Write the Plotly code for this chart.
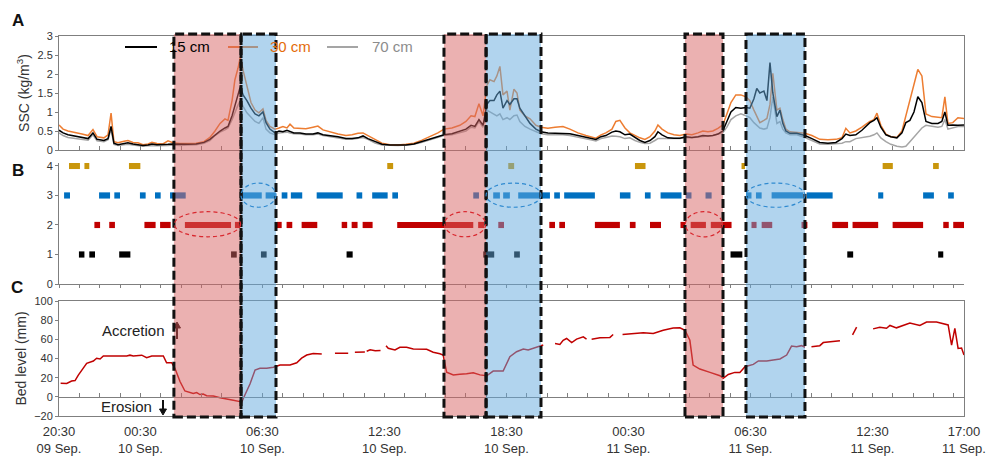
import plotly.graph_objects as go

# ---------------- data ----------------
# time axis: hours elapsed since 20:30, 09 Sep.
tick_hours = [0, 4, 10, 16, 22, 28, 34, 40, 44.5]
tick_labels = ["20:30<br>09 Sep.", "00:30<br>10 Sep.", "06:30<br>10 Sep.", "12:30<br>10 Sep.",
               "18:30<br>10 Sep.", "00:30<br>11 Sep.", "06:30<br>11 Sep.", "12:30<br>11 Sep.",
               "17:00<br>11 Sep."]

# erosion (red) and recovery (blue) windows, hours
erosion_windows = [(5.65, 8.95), (18.93, 21.0), (30.78, 32.65)]
recovery_windows = [(8.95, 10.67), (21.0, 23.7), (33.78, 36.68)]

# A: suspended sediment concentration (kg/m3)
t_ssc = [0.00, 0.20, 0.44, 0.79, 1.13, 1.43, 1.67, 1.87, 2.21, 2.41, 2.56, 2.70, 2.90, 3.20, 3.39, 3.64,
         3.88, 4.13, 4.38, 4.57, 4.82, 5.11, 5.36, 5.60, 5.95, 6.34, 6.74, 7.13, 7.42, 7.67, 7.92, 8.16,
         8.31, 8.51, 8.65, 8.80, 8.92, 9.05, 9.24, 9.44, 9.64, 9.83, 10.03, 10.18, 10.37, 10.62, 10.82,
         11.01, 11.21, 11.36, 11.55, 11.85, 12.14, 12.49, 12.73, 12.98, 13.32, 13.72, 14.11, 14.41, 14.70,
         14.95, 15.19, 15.54, 15.88, 16.27, 16.67, 17.06, 17.45, 17.85, 18.24, 18.63, 18.93, 19.32, 19.71,
         20.01, 20.26, 20.45, 20.65, 20.85, 21.04, 21.19, 21.39, 21.53, 21.68, 21.83, 22.03, 22.17, 22.37,
         22.52, 22.66, 22.91, 23.16, 23.45, 23.70, 24.04, 24.39, 24.78, 25.12, 25.52, 25.91, 26.20, 26.40,
         26.65, 26.89, 27.19, 27.38, 27.58, 27.83, 28.07, 28.32, 28.56, 28.81, 29.06, 29.30, 29.45, 29.65,
         29.94, 30.24, 30.53, 30.83, 31.12, 31.42, 31.66, 31.91, 32.15, 32.40, 32.64, 32.84, 33.04, 33.28,
         33.53, 33.78, 33.97, 34.17, 34.31, 34.46, 34.66, 34.81, 34.96, 35.10, 35.30, 35.45, 35.59, 35.74,
         35.94, 36.28, 36.68, 37.02, 37.41, 37.81, 38.20, 38.50, 38.69, 38.89, 39.18, 39.48, 39.68, 39.87,
         40.07, 40.22, 40.41, 40.66, 40.90, 41.20, 41.45, 41.64, 41.84, 42.04, 42.23, 42.43, 42.63, 42.92,
         43.22, 43.41, 43.56, 43.71, 43.95, 44.20, 44.50]

ssc_15cm = [0.52, 0.45, 0.40, 0.36, 0.33, 0.30, 0.45, 0.28, 0.25, 0.30, 0.62, 0.18, 0.14, 0.17, 0.19, 0.16,
            0.15, 0.12, 0.13, 0.16, 0.14, 0.14, 0.15, 0.16, 0.15, 0.15, 0.16, 0.20, 0.28, 0.40, 0.50, 0.58,
            0.62, 0.90, 1.20, 1.45, 1.68, 1.45, 1.30, 1.10, 0.95, 0.90, 1.00, 0.72, 0.55, 0.45, 0.50,
            0.48, 0.52, 0.48, 0.45, 0.45, 0.42, 0.42, 0.45, 0.40, 0.38, 0.35, 0.30, 0.30, 0.32,
            0.37, 0.30, 0.22, 0.15, 0.13, 0.12, 0.13, 0.16, 0.22, 0.28, 0.35, 0.40, 0.43, 0.50,
            0.55, 0.65, 0.62, 0.80, 0.65, 1.20, 1.30, 1.30, 1.45, 1.55, 1.10, 1.30, 1.20, 1.35,
            1.35, 1.10, 0.90, 0.70, 0.55, 0.48, 0.45, 0.44, 0.44, 0.43, 0.38, 0.33, 0.30, 0.28,
            0.35, 0.38, 0.47, 0.50, 0.48, 0.40, 0.42, 0.33, 0.25, 0.20, 0.25, 0.35, 0.48, 0.40,
            0.32, 0.31, 0.31, 0.35, 0.33, 0.35, 0.38, 0.37, 0.38, 0.42, 0.50, 0.75, 1.00, 1.12,
            1.10, 1.12, 1.10, 1.35, 1.62, 1.50, 1.55, 1.30, 2.30, 1.50, 0.88, 1.05, 0.70, 0.50,
            0.44, 0.44, 0.38, 0.30, 0.20, 0.18, 0.20, 0.30, 0.42, 0.38, 0.40, 0.52, 0.62, 0.72,
            0.78, 0.85, 0.60, 0.40, 0.35, 0.32, 0.45, 0.72, 0.78, 1.00, 1.40, 1.25, 0.75, 0.70,
            0.70, 0.75, 1.00, 0.65, 0.66, 0.65, 0.66]

ssc_30cm = [0.66, 0.55, 0.50, 0.45, 0.42, 0.38, 0.54, 0.35, 0.32, 0.40, 0.97, 0.22, 0.19, 0.23, 0.25, 0.20,
            0.19, 0.14, 0.16, 0.20, 0.17, 0.16, 0.24, 0.19, 0.17, 0.17, 0.18, 0.22, 0.33, 0.50, 0.70, 0.82,
            0.78, 1.30, 1.85, 2.15, 2.45, 2.10, 1.70, 1.25, 1.05, 0.98, 1.08, 0.78, 0.62, 0.55, 0.58,
            0.62, 0.58, 0.68, 0.58, 0.57, 0.56, 0.60, 0.63, 0.53, 0.47, 0.42, 0.38, 0.40, 0.44,
            0.45, 0.38, 0.28, 0.18, 0.14, 0.13, 0.15, 0.18, 0.26, 0.35, 0.45, 0.55, 0.58, 0.65,
            0.75, 0.90, 0.88, 1.22, 0.90, 1.70, 1.85, 1.80, 1.95, 2.20, 1.45, 1.55, 1.05, 1.60,
            1.50, 1.05, 0.90, 0.82, 0.65, 0.60, 0.57, 0.60, 0.62, 0.55, 0.45, 0.38, 0.35, 0.31,
            0.40, 0.45, 0.55, 0.75, 0.78, 0.58, 0.45, 0.38, 0.32, 0.28, 0.35, 0.50, 0.66, 0.55,
            0.45, 0.40, 0.38, 0.42, 0.40, 0.45, 0.50, 0.48, 0.50, 0.57, 0.66, 0.95, 1.25, 1.45,
            1.45, 1.40, 1.30, 1.05, 0.90, 0.72, 0.78, 0.83, 1.20, 2.02, 1.05, 1.10, 0.80, 0.55,
            0.48, 0.47, 0.44, 0.38, 0.28, 0.27, 0.28, 0.32, 0.57, 0.45, 0.50, 0.60, 0.68, 0.75,
            0.80, 0.97, 0.65, 0.42, 0.35, 0.33, 0.50, 0.88, 1.30, 1.75, 2.12, 1.95, 0.95, 0.88,
            0.86, 0.85, 1.40, 0.70, 0.72, 0.85, 0.83]

ssc_70cm = [0.45, 0.38, 0.33, 0.30, 0.28, 0.26, 0.40, 0.24, 0.22, 0.27, 0.55, 0.15, 0.12, 0.14, 0.15, 0.13,
            0.12, 0.10, 0.11, 0.12, 0.11, 0.11, 0.12, 0.13, 0.12, 0.13, 0.14, 0.18, 0.25, 0.38, 0.47, 0.53,
            0.58, 0.80, 1.00, 1.18, 1.30, 1.15, 0.98, 0.85, 0.75, 0.70, 0.85, 0.55, 0.45, 0.40, 0.45,
            0.46, 0.47, 0.45, 0.43, 0.42, 0.40, 0.40, 0.42, 0.38, 0.35, 0.33, 0.28, 0.28, 0.30,
            0.33, 0.28, 0.18, 0.13, 0.12, 0.12, 0.13, 0.15, 0.20, 0.27, 0.33, 0.38, 0.40, 0.45,
            0.50, 0.60, 0.58, 0.75, 0.60, 1.05, 1.00, 0.95, 0.90, 0.95, 0.80, 0.85, 0.80, 0.90,
            0.92, 0.75, 0.62, 0.55, 0.48, 0.43, 0.40, 0.40, 0.40, 0.38, 0.33, 0.28, 0.26, 0.24,
            0.30, 0.33, 0.37, 0.36, 0.35, 0.30, 0.32, 0.25, 0.20, 0.17, 0.18, 0.25, 0.30, 0.30,
            0.30, 0.30, 0.30, 0.33, 0.32, 0.34, 0.36, 0.37, 0.38, 0.42, 0.45, 0.60, 0.80, 0.90,
            0.95, 0.90, 0.85, 0.72, 0.65, 0.58, 0.55, 0.57, 0.85, 1.40, 0.70, 0.75, 0.55, 0.45,
            0.40, 0.40, 0.33, 0.25, 0.16, 0.15, 0.17, 0.18, 0.22, 0.22, 0.30, 0.32, 0.33, 0.36,
            0.40, 0.45, 0.32, 0.22, 0.15, 0.10, 0.08, 0.10, 0.22, 0.35, 0.45, 0.58, 0.65, 0.62,
            0.60, 0.62, 0.80, 0.55, 0.58, 0.62, 0.62]

# B: classified states 1-4, each as (start, end) runs in hours
state4_runs = [(0.49, 1.03), (1.25, 1.49), (3.44, 4.00), (16.14, 16.43), (22.09, 22.38), (28.32, 28.84),
               (33.56, 33.73), (40.50, 41.00), (42.98, 43.26)]
state3_runs = [(0.25, 0.54), (1.97, 2.51), (2.72, 3.00), (3.98, 4.26), (4.72, 5.00), (5.46, 6.23),
               (8.95, 9.97), (10.16, 10.65), (10.95, 11.23), (11.40, 11.96), (12.67, 13.95), (14.63, 14.91),
               (15.40, 16.16), (16.39, 16.67), (20.37, 20.65), (21.35, 21.68), (21.84, 22.17), (22.58, 24.14),
               (24.35, 24.63), (24.84, 26.35), (27.58, 28.10), (28.81, 29.09), (29.58, 30.61), (30.83, 31.10),
               (31.79, 32.09), (33.78, 34.05), (34.27, 34.55), (35.04, 36.60), (36.76, 38.04), (40.28, 40.53),
               (42.49, 43.02), (43.72, 44.00)]
state2_runs = [(1.74, 2.02), (2.47, 2.75), (4.20, 4.75), (4.97, 5.49), (6.19, 8.46), (8.65, 8.90),
               (10.70, 10.95), (11.19, 11.47), (11.93, 12.70), (13.90, 14.17), (14.39, 14.68), (14.93, 15.42),
               (16.63, 20.37), (20.61, 20.90), (21.60, 21.88), (24.11, 24.39), (24.60, 24.88), (26.35, 27.58),
               (28.07, 28.35), (29.06, 29.60), (30.56, 30.78), (31.06, 31.81), (32.05, 33.07), (34.05, 34.30),
               (34.55, 35.07), (36.51, 36.80), (38.02, 38.80), (39.02, 40.28), (40.99, 42.49), (43.48, 43.75),
               (43.97, 44.50)]
state1_runs = [(0.98, 1.25), (1.49, 1.77), (2.96, 3.51), (8.46, 8.74), (9.93, 10.21), (14.14, 14.44),
               (20.86, 21.40), (22.38, 22.66), (33.02, 33.60), (38.76, 39.05), (43.23, 43.48)]

# C: bed level (mm); None marks missing records
t_bed = [0.08, 0.38, 0.62, 0.79, 0.95, 1.19, 1.36, 1.69, 1.85, 2.02, 2.18, 3.33, 3.49, 3.65, 4.07, 4.31,
         4.56, 5.13, 5.29, 5.54, 5.70, 5.95, 6.19, 6.60, 6.77, 6.93, 7.09, 7.26, 7.59, 7.92, 8.24, 8.57,
         8.90, 8.98, 9.14, 9.39, 9.64, 9.88, 10.21, 10.54, 10.87, 11.36, 11.69, 11.93, 12.18, 12.50, 12.92,
         12.95, 13.57, 14.22, 14.30, 14.55, 15.04, 15.10, 15.13, 15.30, 15.55, 15.81, 15.90, 16.08, 16.19,
         16.52, 16.76, 17.09, 17.42, 18.08, 18.40, 18.73, 18.89, 19.06, 19.22, 19.39, 19.71, 20.04, 20.37,
         20.70, 21.03, 21.35, 21.84, 22.17, 22.50, 22.83, 23.07, 23.32, 23.65, 23.81, 23.95, 24.39, 24.63,
         24.79, 24.96, 25.21, 25.45, 25.78, 25.94, 26.05, 26.19, 26.60, 27.09, 27.25, 27.45, 27.71, 28.24,
         28.73, 29.22, 29.71, 30.20, 30.53, 30.78, 31.02, 31.18, 31.51, 32.01, 32.50, 32.66, 32.91, 33.23,
         33.48, 33.73, 34.14, 34.39, 34.80, 35.12, 35.45, 35.78, 36.02, 36.27, 36.51, 36.68, 36.85, 37.00,
         37.41, 37.58, 38.40, 38.70, 39.02, 39.22, 39.60, 40.03, 40.36, 40.69, 40.86, 41.18, 41.51, 41.84,
         42.33, 42.66, 43.15, 43.56, 43.72, 43.89, 44.05, 44.21, 44.38, 44.50]
bed_level = [14.2, 14.0, 16.5, 17.0, 22.7, 30.4, 35.0, 37.4, 40.3, 39.5, 42.6, 42.6, 43.5, 42.6, 43.5, 40.8,
             42.6, 42.6, 35.6, 35.6, 29.8, 16.0, 6.1, 3.6, 4.5, 2.4, 3.0, 1.2, 0.8, -0.9, -2.6, -3.6,
             -5.0, -5.6, 1.9, 13.4, 28.0, 29.8, 29.8, 30.8, 33.2, 33.2, 35.6, 40.3, 43.6, 45.3, 44.6,
             None, 45.4, 45.6, None, 46.5, 46.8, None, 47.5, 49.0, 48.0, 48.3, None, 53.4, 50.6,
             49.0, 51.7, 51.7, 50.0, 49.6, 46.5, 45.0, 43.6, 25.7, 24.6, 22.9, 23.6, 24.0, 25.2,
             22.9, 22.0, 26.9, 27.0, 41.9, 47.1, 49.9, 49.0, 50.6, 52.3, 54.0, None, 55.7, 54.7,
             59.0, 60.9, 56.7, 60.2, 62.6, 60.2, None, 60.2, 61.6, 62.0, 65.0, None, 65.0, 66.0,
             66.8, 66.0, 69.5, 71.9, 72.0, 69.5, 59.0, 33.2, 29.0, 25.5, 22.0, 19.3, 23.4, 25.5,
             25.5, 31.4, 33.9, 37.4, 37.4, 38.4, 39.5, 43.6, 53.0, 52.3, 53.4, 51.7, None, 52.3,
             53.4, 56.6, 58.4, None, 64.7, 72.7, None, 70.9, 72.7, 71.5, 74.5, 72.0, 74.5, 77.0,
             74.5, 78.0, 78.0, 76.0, 75.0, 54.0, 71.5, 50.5, 51.0, 43.6]

# ---------------- layout geometry ----------------
W, H = 990, 456
ML, MR, MT, MB = 59, 26, 36, 40
PLOT_H = H - MT - MB
X_MAX = 44.5


def py(px):
    """pixel row -> paper y"""
    return (H - MB - px) / PLOT_H


def pxx(px):
    """pixel column -> paper x"""
    return (px - ML) / (W - ML - MR)


dom_a = [py(150), 1.0]
dom_b = [py(284), py(163)]
dom_c = [0.0, py(301)]
B_RANGE = [0, 4.1]
C_RANGE = [-20, 100]

AX = "#7f7f7f"
TXT = "#333333"
FONT = "Liberation Sans, Arial, sans-serif"

C15, C30, C70 = "#000000", "#ED7D31", "#A5A5A5"
STATE_COLORS = {4: "#C9960C", 3: "#0070C0", 2: "#C00000", 1: "#000000"}

fig = go.Figure()

# A: SSC lines
for vals, col in [(ssc_70cm, C70), (ssc_30cm, C30), (ssc_15cm, C15)]:
    fig.add_trace(go.Scatter(x=t_ssc, y=vals, mode="lines", line=dict(color=col, width=1.5),
                             xaxis="x", yaxis="y", showlegend=False, hoverinfo="skip"))

# B: state runs as horizontal bars
for level, runs in [(4, state4_runs), (3, state3_runs), (2, state2_runs), (1, state1_runs)]:
    starts = [a for a, b in runs]
    lengths = [b - a for a, b in runs]
    fig.add_trace(go.Bar(x=lengths, base=starts, y=[level] * len(runs), orientation="h", width=0.21,
                         marker=dict(color=STATE_COLORS[level], line=dict(width=0)),
                         xaxis="x2", yaxis="y2", showlegend=False, hoverinfo="skip"))

# C: bed level
fig.add_trace(go.Scatter(x=t_bed, y=bed_level, mode="lines", connectgaps=False,
                         line=dict(color="#C00000", width=1.5),
                         xaxis="x3", yaxis="y3", showlegend=False, hoverinfo="skip"))
# carrier for the zero-level tick axis
fig.add_trace(go.Scatter(x=[None], y=[None], xaxis="x4", yaxis="y3", showlegend=False, hoverinfo="skip"))

common_x = dict(range=[0, X_MAX], showgrid=False, zeroline=False, showline=True, linecolor=AX,
                linewidth=1, tickcolor=AX, dtick=1, tick0=0, showticklabels=False, automargin=False)
ytick_font = dict(family=FONT, size=11, color=TXT)
title_font = dict(family=FONT, size=14, color=TXT)

fig.update_layout(
    width=W, height=H,
    margin=dict(l=ML, r=MR, t=MT, b=MB, autoexpand=False),
    paper_bgcolor="white", plot_bgcolor="white",
    font=dict(family=FONT, color=TXT),
    barmode="overlay",
    showlegend=False,
    xaxis=dict(common_x, anchor="y", mirror=True, ticks="inside", ticklen=4),
    yaxis=dict(domain=dom_a, range=[0, 3], dtick=0.5, showgrid=False, zeroline=False, showline=True,
               mirror=True, linecolor=AX, ticks="outside", ticklen=3, tickcolor=AX, tickfont=ytick_font,
               automargin=False, title=dict(text="SSC (kg/m<sup>3</sup>)", font=title_font, standoff=4)),
    xaxis2=dict(common_x, anchor="y2", ticks="outside", ticklen=3),
    yaxis2=dict(domain=dom_b, range=B_RANGE, dtick=1, showgrid=False, zeroline=False, showline=True,
                linecolor=AX, ticks="outside", ticklen=3, tickcolor=AX, tickfont=ytick_font,
                automargin=False),
    xaxis3=dict(range=[0, X_MAX], anchor="y3", showgrid=False, zeroline=False, showline=True,
                mirror=True, linecolor=AX, tickmode="array", tickvals=tick_hours, ticktext=tick_labels,
                ticks="outside", ticklen=3, tickcolor="rgba(0,0,0,0)", automargin=False,
                tickfont=dict(family=FONT, size=13, color=TXT)),
    xaxis4=dict(common_x, overlaying="x3", anchor="free",
                position=dom_c[1] * (0 - C_RANGE[0]) / (C_RANGE[1] - C_RANGE[0]),
                ticks="inside", ticklen=4),
    yaxis3=dict(domain=dom_c, range=C_RANGE, dtick=20, showgrid=False, zeroline=False, showline=True,
                mirror=True, linecolor=AX, ticks="outside", ticklen=3, tickcolor=AX, tickfont=ytick_font,
                automargin=False, title=dict(text="Bed level (mm)", font=title_font, standoff=4)),
)

shapes = []

# legend swatches
leg_y = py(47)
for x0, x1, col in [(125, 157, C15), (228, 258, C30), (327, 358, C70)]:
    shapes.append(dict(type="line", xref="paper", yref="paper", x0=pxx(x0), x1=pxx(x1), y0=leg_y, y1=leg_y,
                       line=dict(color=col, width=2)))

# accretion / erosion direction arrows (shaft + head)
for x_px, y_tail, y_head, col in [(177, 339, 322, "#1a0000"), (163, 400, 415, "#111111")]:
    xs = pxx(x_px)
    d = 1 if y_head > y_tail else -1
    shapes.append(dict(type="line", xref="paper", yref="paper", x0=xs, x1=xs, y0=py(y_tail),
                       y1=py(y_head - 5 * d), line=dict(color=col, width=2)))
    shapes.append(dict(type="path", xref="paper", yref="paper", fillcolor=col, line=dict(color=col, width=1),
                       path="M %f,%f L %f,%f L %f,%f Z" % (pxx(x_px - 3.5), py(y_head - 6 * d), pxx(x_px + 3.5),
                                                         py(y_head - 6 * d), xs, py(y_head))))

# translucent period shading over all panels
top = py(34)
for (a, b) in erosion_windows:
    shapes.append(dict(type="rect", xref="x", yref="paper", x0=a, x1=b, y0=0, y1=top, layer="above",
                       fillcolor="rgba(215,99,99,0.5)", line=dict(width=0)))
for (a, b) in recovery_windows:
    shapes.append(dict(type="rect", xref="x", yref="paper", x0=a, x1=b, y0=0, y1=top, layer="above",
                       fillcolor="rgba(99,169,221,0.5)", line=dict(width=0)))
# dashed frames
for (a, b) in erosion_windows + recovery_windows:
    shapes.append(dict(type="rect", xref="x", yref="paper", x0=a, x1=b, y0=py(417), y1=top, layer="above",
                       fillcolor="rgba(0,0,0,0)", line=dict(color="#111111", width=3, dash="9px,4px")))

# highlight ellipses in panel B
for (a, b) in erosion_windows:
    shapes.append(dict(type="circle", xref="x2", yref="y2", x0=a + 0.02, x1=b - 0.02, y0=1.6, y1=2.45,
                       layer="above", line=dict(color="#D9282F", width=1.2, dash="4px,3px")))
for (a, b) in recovery_windows:
    shapes.append(dict(type="circle", xref="x2", yref="y2", x0=a, x1=b, y0=2.6, y1=3.42,
                       layer="above", line=dict(color="#2F8AD0", width=1.2, dash="4px,3px")))

fig.update_layout(shapes=shapes)

ann = []
for txt, x0, col in [("15 cm", 167, C15), ("30 cm", 268, "#E46C0A"), ("70 cm", 370, "#8C8C8C")]:
    ann.append(dict(text=txt, xref="paper", yref="paper", x=pxx(x0), y=leg_y, xanchor="left",
                    yanchor="middle", showarrow=False, font=dict(family=FONT, size=15, color=col)))

for letter, px_x, px_y in [("A", 18, 21), ("B", 18, 170), ("C", 17, 287)]:
    ann.append(dict(text="<b>%s</b>" % letter, xref="paper", yref="paper", x=pxx(px_x), y=py(px_y),
                    xanchor="center", yanchor="middle", showarrow=False,
                    font=dict(family=FONT, size=17, color="#111111")))

ann.append(dict(text="Accretion", xref="paper", yref="paper", x=pxx(133), y=py(330), xanchor="center",
                yanchor="middle", showarrow=False, font=dict(family=FONT, size=15, color="#222222")))
ann.append(dict(text="Erosion", xref="paper", yref="paper", x=pxx(126), y=py(406), xanchor="center",
                yanchor="middle", showarrow=False, font=dict(family=FONT, size=15, color="#222222")))

fig.update_layout(annotations=ann)

fig.write_html("out.html")
